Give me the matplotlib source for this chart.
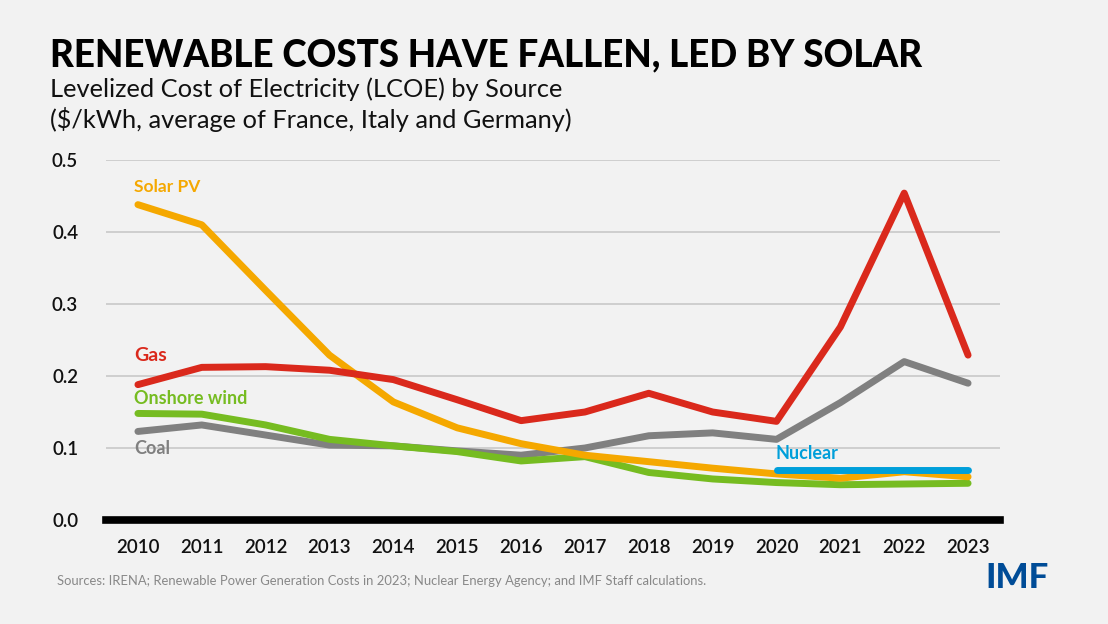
import matplotlib.pyplot as plt

years = list(range(2010, 2024))
solar = [0.438, 0.410, 0.319, 0.229, 0.164, 0.128, 0.106, 0.090, 0.081, 0.072, 0.064, 0.058, 0.067, 0.060]
gas = [0.188, 0.212, 0.213, 0.208, 0.195, 0.167, 0.138, 0.150, 0.176, 0.150, 0.137, 0.268, 0.454, 0.229]
wind = [0.148, 0.147, 0.132, 0.112, 0.103, 0.095, 0.082, 0.088, 0.066, 0.057, 0.052, 0.049, 0.050, 0.051]
coal = [0.123, 0.132, 0.118, 0.104, 0.103, 0.096, 0.090, 0.100, 0.117, 0.121, 0.112, 0.163, 0.220, 0.190]
nuclear_years = [2020, 2021, 2022, 2023]
nuclear = [0.069, 0.069, 0.069, 0.069]

plt.rcParams['font.family'] = ['Lato', 'DejaVu Sans']

bg = '#f2f2f2'
fig = plt.figure(figsize=(11.08, 6.24), dpi=100, facecolor=bg)
ax = fig.add_axes([106 / 1108, 1 - 520 / 624, 894 / 1108, 360 / 624], facecolor=bg)

# gridlines and zero line
for y in [0.1, 0.2, 0.3, 0.4, 0.5]:
    ax.axhline(y, color='#c8c8c8', lw=1.2, zorder=1)
ax.axhline(0, color='black', lw=5.5, zorder=5, clip_on=False)

lw = 5
ax.plot(years, coal, color='#808080', lw=lw, solid_capstyle='round', zorder=3)
ax.plot(years, wind, color='#76bc21', lw=lw, solid_capstyle='round', zorder=3)
ax.plot(years, solar, color='#f5a800', lw=lw, solid_capstyle='round', zorder=3)
ax.plot(years, gas, color='#da291c', lw=lw, solid_capstyle='round', zorder=4)
ax.plot(nuclear_years, nuclear, color='#009fda', lw=lw, solid_capstyle='round', zorder=4)

# series labels
ax.text(2009.94, 0.4625, 'Solar PV', color='#f5a800', fontsize=12.5, fontweight='bold', va='center')
ax.text(2009.94, 0.228, 'Gas', color='#da291c', fontsize=14, fontweight='bold', va='center')
ax.text(2009.94, 0.169, 'Onshore wind', color='#76bc21', fontsize=13, fontweight='bold', va='center')
ax.text(2009.94, 0.100, 'Coal', color='#808080', fontsize=13, fontweight='bold', va='center')
ax.text(2019.98, 0.093, 'Nuclear', color='#009fda', fontsize=13, fontweight='bold', va='center')

ax.set_xlim(2009.5, 2023.5)
ax.set_ylim(0, 0.5)
ax.set_xticks(years)
ax.set_xticklabels([str(y) for y in years])
ax.set_yticks([0, 0.1, 0.2, 0.3, 0.4, 0.5])
ax.set_yticklabels(['0.0', '0.1', '0.2', '0.3', '0.4', '0.5'])
ax.tick_params(length=0, labelsize=13.5, colors='#111111')
ax.tick_params(axis='x', pad=14)
ax.tick_params(axis='y', pad=20)
for lbl in ax.get_xticklabels() + ax.get_yticklabels():
    lbl.set_fontweight('semibold')
for s in ax.spines.values():
    s.set_visible(False)

# titles and footer
fig.text(50 / 1108, 1 - 55 / 624, 'RENEWABLE COSTS HAVE FALLEN, LED BY SOLAR',
         fontsize=26.5, fontweight='black', va='center', color='black')
fig.text(50 / 1108, 1 - 89 / 624, 'Levelized Cost of Electricity (LCOE) by Source',
         fontsize=18.3, va='center', color='#111111')
fig.text(50 / 1108, 1 - 119 / 624, '($/kWh, average of France, Italy and Germany)',
         fontsize=18.3, va='center', color='#111111')
fig.text(57 / 1108, 1 - 581 / 624,
         'Sources: IRENA; Renewable Power Generation Costs in 2023; Nuclear Energy Agency; and IMF Staff calculations.',
         fontsize=9.4, va='center', color='#888888')
fig.text(985 / 1108, 1 - 578 / 624, 'IMF', fontsize=25, fontweight='black',
         va='center', color='#004c97')

fig.savefig('out.png', dpi=100, facecolor=bg)
